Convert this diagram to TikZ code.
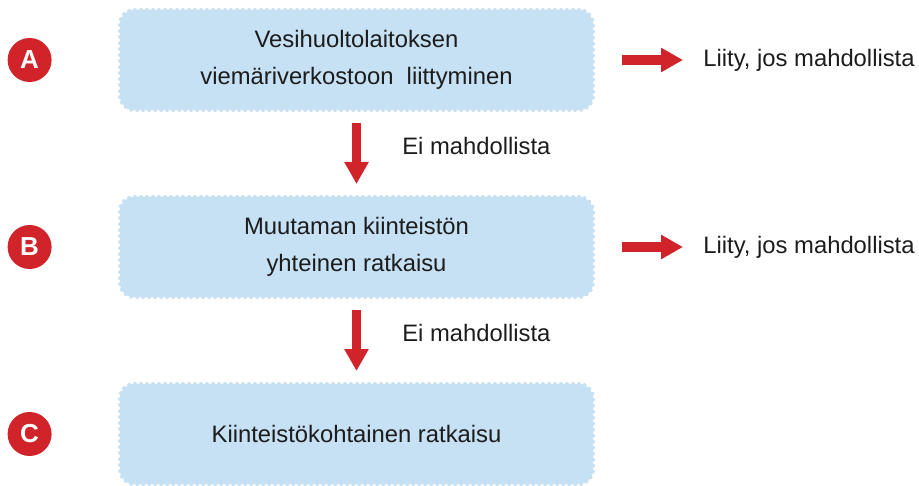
\documentclass[tikz,border=0pt]{standalone}
\usepackage{fontspec}
\setmainfont{Liberation Sans}
\usepackage{tikz}
\usetikzlibrary{positioning,calc,arrows.meta}
\definecolor{boxblue}{RGB}{198,224,244}
\definecolor{markred}{RGB}{208,35,42}
\definecolor{inkgray}{RGB}{28,28,28}

\begin{document}
\begin{tikzpicture}
 \coordinate (origo) at (0,0);
 \useasboundingbox (origo) rectangle (459.5pt,-243pt);

\tikzstyle{stage}=[draw=boxblue,fill=boxblue,text=inkgray,line width=2pt,dash pattern=on 0pt off 3pt,line cap=round,rounded corners=7pt,minimum width=236.5pt,minimum height=50pt,align=center,font=\fontsize{11.9}{18.5}\selectfont]
\tikzstyle{badge}=[circle,fill=markred,text=white,minimum size=22pt,inner sep=0pt,font=\fontsize{13}{13}\selectfont\bfseries]
\tikzstyle{note}=[inner sep=0pt,text=inkgray,font=\fontsize{11.9}{14}\selectfont]
\tikzstyle{bigarrow}=[markred,line width=4.75pt,-{Triangle[length=11pt,width=11.5pt]}]

   %draw stages
   \node (A) [stage] at ($(origo)+(178.25pt,-30pt)$) {Vesihuoltolaitoksen\\viemäriverkostoon~ liittyminen};
   \node (B) [stage,below=41.5pt of A] {Muutaman kiinteistön\\yhteinen ratkaisu};
   \node (C) [stage,below=41.5pt of B] {Kiinteistökohtainen ratkaisu};

   %letters
   \node (A_badge) [badge,left=33pt of A] {A};
   \node (B_badge) [badge,left=33pt of B] {B};
   \node (C_badge) [badge,left=33pt of C] {C};

   %side notes
   \node (A_note) [note,right=54pt of A] {Liity, jos mahdollista};
   \node (B_note) [note,right=54pt of B] {Liity, jos mahdollista};

   \draw [bigarrow,shorten <=13.5pt,shorten >=10pt] (A.east) -- (A_note.west);
   \draw [bigarrow,shorten <=13.5pt,shorten >=10pt] (B.east) -- (B_note.west);

   \draw [bigarrow,shorten <=5.5pt,shorten >=5.5pt] (A.south) -- (B.north) node [note,midway,right=20.5pt,yshift=3.75pt] (AB_label) {Ei mahdollista};
   \draw [bigarrow,shorten <=5.5pt,shorten >=5.5pt] (B.south) -- (C.north) node [note,midway,right=20.5pt,yshift=3.75pt] (BC_label) {Ei mahdollista};

\end{tikzpicture}
\end{document}
